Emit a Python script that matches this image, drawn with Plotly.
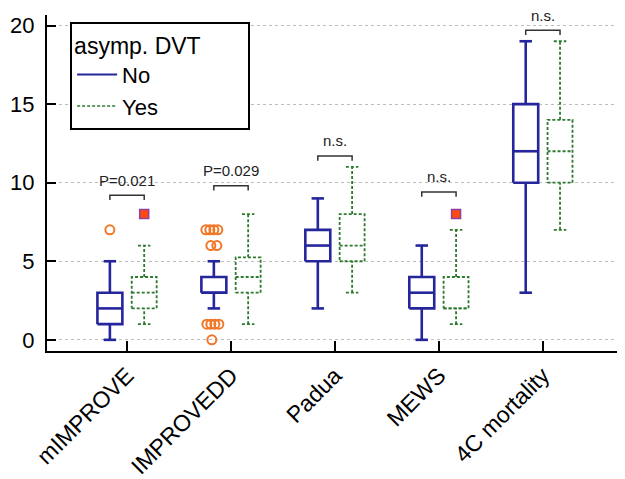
import plotly.graph_objects as go

# ---------------- data ----------------
categories = ["mIMPROVE", "IMPROVEDD", "Padua", "MEWS", "4C mortality"]

no_min = [0, 2, 2, 0, 3]
no_q1 = [1, 3, 5, 2, 10]
no_med = [2, 3, 6, 3, 12]
no_q3 = [3, 4, 7, 4, 15]
no_max = [5, 5, 9, 6, 19]

yes_min = [1, 1, 3, 1, 7]
yes_q1 = [2, 3, 5, 2, 10]
yes_med = [3, 4, 6, 2, 12]
yes_q3 = [4, 5.25, 8, 4, 14]
yes_max = [6, 8, 11, 7, 19]

# outliers (category index, value)
no_out_cat = [0, 1, 1, 1, 1, 1, 1, 1, 1, 1, 1, 1]
no_out_val = [7, 7, 7, 7, 7, 6, 6, 1, 1, 1, 1, 0]
yes_out_cat = [0, 3]
yes_out_val = [8, 8]

# significance brackets
sig_height = [9.2, 9.8, 11.7, 9.4, 19.7]
sig_text = ["P=0.021", "P=0.029", "n.s.", "n.s.", "n.s."]

# ---------------- style / layout constants ----------------
BLUE = "#25259C"
GREEN = "#2E7A2E"
ORANGE = "#F07828"
FONT = "Arial, Liberation Sans, sans-serif"
OFFSET = 0.165      # group offset from category centre
HALF_W = 0.12       # half box width
CAP = 0.06          # half whisker-cap width
PX = 1 / 104.0      # data units per pixel along x
no_jitter_px = [0, -8, -4, 0, 4, -3, 3, -7, -3, 1, 5, -2]
yes_jitter_px = [0, 0]


def box_path(centres, mn, q1, md, q3, mx):
    xs, ys = [], []
    for x, a, b, m, c, d in zip(centres, mn, q1, md, q3, mx):
        segs = [
            ([x - CAP, x + CAP], [a, a]),
            ([x, x], [a, b]),
            ([x - HALF_W, x + HALF_W, x + HALF_W, x - HALF_W, x - HALF_W], [b, b, c, c, b]),
            ([x - HALF_W, x + HALF_W], [m, m]),
            ([x, x], [c, d]),
            ([x - CAP, x + CAP], [d, d]),
        ]
        for sx, sy in segs:
            xs += sx + [None]
            ys += sy + [None]
    return xs, ys


idx = list(range(len(categories)))
no_x = [i - OFFSET for i in idx]
yes_x = [i + OFFSET for i in idx]

fig = go.Figure()

bx, by = box_path(no_x, no_min, no_q1, no_med, no_q3, no_max)
fig.add_trace(go.Scatter(x=bx, y=by, mode="lines", showlegend=False,
                         line=dict(color=BLUE, width=2.6), hoverinfo="skip"))
gx, gy = box_path(yes_x, yes_min, yes_q1, yes_med, yes_q3, yes_max)
fig.add_trace(go.Scatter(x=gx, y=gy, mode="lines", showlegend=False,
                         line=dict(color=GREEN, width=1.8, dash="3px,2px"), hoverinfo="skip"))

# outliers
fig.add_trace(go.Scatter(
    x=[c - OFFSET + j * PX for c, j in zip(no_out_cat, no_jitter_px)], y=no_out_val,
    mode="markers", showlegend=False,
    marker=dict(symbol="circle-open", size=9, color=ORANGE, line=dict(width=2, color=ORANGE))))
fig.add_trace(go.Scatter(
    x=[c + OFFSET + j * PX for c, j in zip(yes_out_cat, yes_jitter_px)], y=yes_out_val,
    mode="markers", showlegend=False,
    marker=dict(symbol="square", size=9, color="#FF4A10", line=dict(width=1.5, color="#9040A0"))))

# significance brackets
sx, sy = [], []
for i, h in zip(idx, sig_height):
    sx += [i - OFFSET, i - OFFSET, i + OFFSET, i + OFFSET, None]
    sy += [h - 0.3, h, h, h - 0.3, None]
fig.add_trace(go.Scatter(x=sx, y=sy, mode="lines", showlegend=False,
                         line=dict(color="#333333", width=1.5), hoverinfo="skip"))
for i, h, t in zip(idx, sig_height, sig_text):
    fig.add_annotation(x=i, y=h + 0.3, text=t, showarrow=False, yanchor="bottom",
                       font=dict(family=FONT, size=15, color="#222222"))

# legend entries
fig.add_trace(go.Scatter(x=[None], y=[None], mode="lines", name="No",
                         line=dict(color=BLUE, width=2)))
fig.add_trace(go.Scatter(x=[None], y=[None], mode="lines", name="Yes",
                         line=dict(color=GREEN, width=1.5, dash="3px,2px")))

# page body has an 8px default margin: figure is sized/margined to compensate
fig.update_layout(
    width=617, height=471,
    margin=dict(l=39, r=0, t=7, b=122, pad=0),
    paper_bgcolor="white", plot_bgcolor="white",
    font=dict(family=FONT, color="black"),
    legend=dict(
        title=dict(text="asymp. DVT" + "\u00a0" * 7, font=dict(size=23, family=FONT)),
        font=dict(size=22, family=FONT),
        x=0.04, y=0.98, xanchor="left", yanchor="top",
        bgcolor="white", bordercolor="black", borderwidth=2,
        tracegroupgap=0, itemwidth=40,
    ),
    xaxis=dict(
        range=[-0.77, 4.79], tickmode="array", tickvals=idx, ticktext=categories,
        tickangle=-45, tickfont=dict(size=23, family=FONT),
        showline=True, linecolor="black", linewidth=2,
        ticks="inside", ticklen=10, tickwidth=2, tickcolor="black",
        showgrid=False, zeroline=False,
    ),
    yaxis=dict(
        range=[-0.71, 20.67], tickvals=[0, 5, 10, 15, 20],
        tickfont=dict(size=22, family=FONT),
        showline=True, linecolor="black", linewidth=2,
        ticks="inside", ticklen=9, tickwidth=2, tickcolor="black",
        showgrid=True, gridcolor="#BDBDBD", griddash="dot", gridwidth=1,
        zeroline=False, ticklabelstandoff=6,
    ),
)

fig.write_html("out.html")
